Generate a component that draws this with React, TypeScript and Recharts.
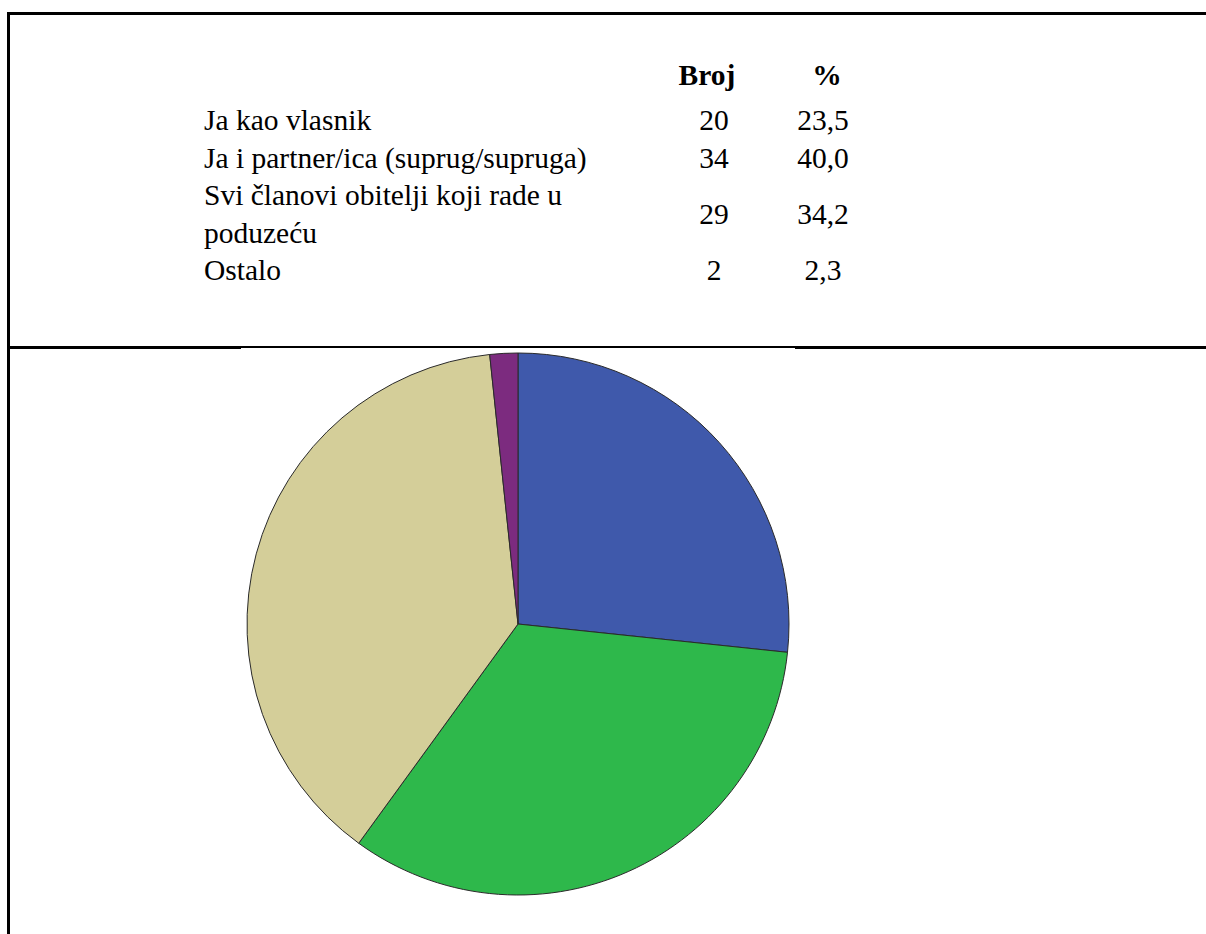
import React from 'react';
import { PieChart, Pie, Cell } from 'recharts';

// table rows (label lines, count, percent)
const categories = ['Ja kao vlasnik', 'Ja i partner/ica (suprug/supruga)', 'Svi članovi obitelji koji rade u poduzeću', 'Ostalo'];
const labelLines = [['Ja kao vlasnik'], ['Ja i partner/ica (suprug/supruga)'], ['Svi članovi obitelji koji rade u', 'poduzeću'], ['Ostalo']];
const counts = [20, 34, 29, 2];
const percents = ['23,5', '40,0', '34,2', '2,3'];
const headers = ['Broj', '%'];

// slice sizes
const pieValues = [16, 20, 23, 1];
const colors = ['#3f59ab', '#2eb84b', '#d4ce99', '#7c2b7f'];

const W = 1206;
const H = 934;
const LH = 37.6;

const cellStyle = (left: number, top: number, center: boolean, bold = false): React.CSSProperties => ({
    position: 'absolute',
    left: center ? left - 60 : left,
    width: center ? 120 : 600,
    top,
    height: LH,
    lineHeight: `${LH}px`,
    textAlign: center ? 'center' : 'left',
    fontWeight: bold ? 'bold' : 'normal',
    whiteSpace: 'nowrap',
});

const App: React.FC = () => {
    const pieData = categories.map((name, i) => ({ name, value: pieValues[i] }));

    // row tops; a two-line label takes two lines, numbers sit between them
    let y = 102;
    const rows = labelLines.map((lines, i) => {
        const top = y;
        y += lines.length * LH;
        const numTop = top + ((lines.length - 1) * LH) / 2;
        return { lines, top, numTop, i };
    });

    return (
        <div style={{ position: 'fixed', left: 0, top: 0, width: W, height: H, background: '#fff', overflow: 'hidden' }}>
            <div style={{ position: 'absolute', left: 0, top: 0 }}>
                <PieChart width={W} height={H} margin={{ top: 0, right: 0, bottom: 0, left: 0 }}>
                    <Pie
                        data={pieData}
                        dataKey="value"
                        cx={518}
                        cy={624}
                        outerRadius={271}
                        startAngle={90}
                        endAngle={-270}
                        stroke="#2a2a2a"
                        strokeWidth={1}
                        isAnimationActive={false}
                    >
                        {pieData.map((d, i) => (
                            <Cell key={d.name} fill={colors[i]} />
                        ))}
                    </Pie>
                </PieChart>
            </div>

            {/* frame */}
            <div style={{ position: 'absolute', left: 7, top: 12, width: W - 7, height: 3, background: '#000' }} />
            <div style={{ position: 'absolute', left: 7, top: 12, width: 3, height: H - 12, background: '#000' }} />
            <div style={{ position: 'absolute', left: 7, top: 346, width: 234, height: 3, background: '#000' }} />
            <div style={{ position: 'absolute', left: 240, top: 346, width: 556, height: 2, background: '#000' }} />
            <div style={{ position: 'absolute', left: 795, top: 346, width: W - 795, height: 3, background: '#000' }} />

            <div style={{ position: 'absolute', left: 0, top: 0, fontFamily: '"Liberation Serif", serif', fontSize: 29.5, color: '#000' }}>
                <div style={cellStyle(707, 57, true, true)}>{headers[0]}</div>
                <div style={cellStyle(827, 57, true, true)}>{headers[1]}</div>
                {rows.map((r) => (
                    <React.Fragment key={r.i}>
                        {r.lines.map((l, j) => (
                            <div key={j} style={cellStyle(204, r.top + j * LH, false)}>{l}</div>
                        ))}
                        <div style={cellStyle(714, r.numTop, true)}>{counts[r.i]}</div>
                        <div style={cellStyle(823, r.numTop, true)}>{percents[r.i]}</div>
                    </React.Fragment>
                ))}
            </div>
        </div>
    );
};

export default App;
